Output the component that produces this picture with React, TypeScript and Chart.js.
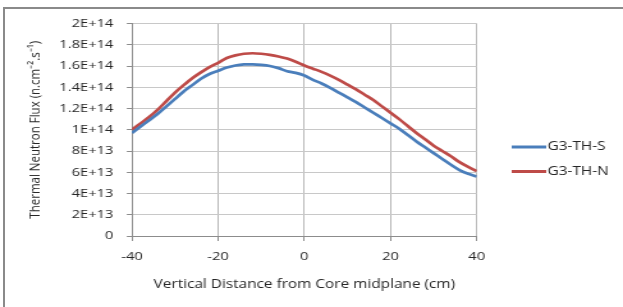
import React, { useEffect, useRef } from "react";
import { Chart, registerables } from "chart.js";

Chart.register(...registerables);

// Vertical distance from core midplane (cm)
const distances = [
  -40, -38, -36, -34, -32, -30, -28, -26, -24, -22, -20, -18, -16, -14, -12, -10, -8, -6, -4, -2,
  0, 2, 4, 6, 8, 10, 12, 14, 16, 18, 20, 22, 24, 26, 28, 30, 32, 34, 36, 38, 40,
];

// Thermal neutron flux, G3-TH-S (n.cm^-2.s^-1)
const fluxS = [
  9.7e13, 10.3e13, 10.9e13, 11.5e13, 12.2e13, 12.9e13, 13.6e13, 14.2e13, 14.8e13, 15.25e13,
  15.55e13, 15.85e13, 16.05e13, 16.15e13, 16.15e13, 16.1e13, 16.0e13, 15.8e13, 15.5e13, 15.35e13,
  15.1e13, 14.7e13, 14.35e13, 13.95e13, 13.5e13, 13.05e13, 12.6e13, 12.1e13, 11.6e13, 11.1e13,
  10.6e13, 10.1e13, 9.5e13, 8.9e13, 8.35e13, 7.8e13, 7.25e13, 6.7e13, 6.2e13, 5.85e13, 5.6e13,
];

// Thermal neutron flux, G3-TH-N (n.cm^-2.s^-1)
const fluxN = [
  10.0e13, 10.6e13, 11.2e13, 11.9e13, 12.7e13, 13.5e13, 14.2e13, 14.85e13, 15.4e13, 15.9e13,
  16.3e13, 16.75e13, 17.0e13, 17.15e13, 17.2e13, 17.15e13, 17.05e13, 16.9e13, 16.7e13, 16.4e13,
  16.05e13, 15.75e13, 15.45e13, 15.1e13, 14.7e13, 14.25e13, 13.8e13, 13.3e13, 12.8e13, 12.2e13,
  11.6e13, 11.0e13, 10.35e13, 9.7e13, 9.1e13, 8.5e13, 8.0e13, 7.5e13, 6.95e13, 6.5e13, 6.1e13,
];

const seriesLabels = ["G3-TH-S", "G3-TH-N"];
const seriesColors = ["#4a7ebb", "#be4b48"];
const xTickValues = [-40, -20, 0, 20, 40];
const yTickValues = [0, 2e13, 4e13, 6e13, 8e13, 1e14, 1.2e14, 1.4e14, 1.6e14, 1.8e14, 2e14];

const xTitle = "Vertical Distance from Core midplane (cm)";
const yTitle = "Thermal Neutron Flux (n.cm\u207B\u00B2.s\u207B\u00B9)";

const FONT = "'Open Sans', 'Liberation Sans', sans-serif";
const TEXT = "#262626";

// The reference image is stretched horizontally; draw narrower and widen with CSS.
const PAGE_W = 623;
const PAGE_H = 307;
const K = 1.28;
const CANVAS_W = Math.round(PAGE_W / K);

function formatGeneral(v: number): string {
  if (v === 0) return "0";
  const r = Math.round(v / 1e11) * 1e11;
  let e = Math.floor(Math.log10(r));
  let m = Number((r / Math.pow(10, e)).toFixed(2));
  if (m >= 10) {
    m = m / 10;
    e += 1;
  }
  return `${m}E+${e}`;
}

const legendPlugin = {
  id: "sideLegend",
  afterDraw(chart: any) {
    const { ctx, chartArea } = chart;
    ctx.save();
    ctx.font = `12px ${FONT}`;
    ctx.textBaseline = "middle";
    ctx.textAlign = "left";
    const x0 = chartArea.right + 400 - 372.7;
    const ys = [147, 171.5];
    chart.data.datasets.forEach((ds: any, i: number) => {
      const y = ys[i];
      ctx.strokeStyle = ds.borderColor;
      ctx.lineWidth = 3;
      ctx.beginPath();
      ctx.moveTo(x0, y);
      ctx.lineTo(x0 + 27, y);
      ctx.stroke();
      ctx.fillStyle = TEXT;
      ctx.fillText(ds.label, x0 + 28, y);
    });
    ctx.restore();
  },
};

export default function App() {
  const canvasRef = useRef<HTMLCanvasElement | null>(null);

  useEffect(() => {
    if (!canvasRef.current) return;
    const chart = new Chart(canvasRef.current, {
      type: "line",
      data: {
        datasets: [
          {
            label: seriesLabels[0],
            data: distances.map((d, i) => ({ x: d, y: fluxS[i] })),
            borderColor: seriesColors[0],
            backgroundColor: seriesColors[0],
            borderWidth: 2.7,
            pointRadius: 0,
            tension: 0.3,
          },
          {
            label: seriesLabels[1],
            data: distances.map((d, i) => ({ x: d, y: fluxN[i] })),
            borderColor: seriesColors[1],
            backgroundColor: seriesColors[1],
            borderWidth: 2.7,
            pointRadius: 0,
            tension: 0.3,
          },
        ],
      },
      options: {
        animation: false,
        responsive: false,
        maintainAspectRatio: false,
        devicePixelRatio: 1,
        layout: { padding: { left: 0, right: CANVAS_W - 372.7, top: 23.5, bottom: 0 } },
        plugins: {
          legend: { display: false },
          tooltip: { enabled: false },
        },
        scales: {
          x: {
            type: "linear",
            min: -40,
            max: 40,
            afterBuildTicks: (scale: any) => {
              scale.ticks = xTickValues.map((v) => ({ value: v }));
            },
            afterFit: (scale: any) => {
              scale.height = PAGE_H - 236;
            },
            ticks: {
              color: TEXT,
              font: { family: FONT, size: 11.5 },
              padding: 9,
              maxRotation: 0,
              callback: (v: any) => String(v),
            },
            grid: {
              color: "#b8b8b8",
              lineWidth: 1,
              drawTicks: true,
              tickLength: 5,
              tickColor: "#8c8c8c",
            },
            border: { color: "#8c8c8c", width: 1 },
            title: {
              display: true,
              text: xTitle,
              color: TEXT,
              font: { family: FONT, size: 12 },
              padding: { top: 0, bottom: 15.5 },
            },
          },
          y: {
            type: "linear",
            min: 0,
            max: 2e14,
            afterBuildTicks: (scale: any) => {
              scale.ticks = yTickValues.map((v) => ({ value: v }));
            },
            afterFit: (scale: any) => {
              scale.width = 132 / K;
            },
            ticks: {
              color: TEXT,
              font: { family: FONT, size: 11.5 },
              padding: 10.5,
              callback: (v: any) => formatGeneral(Number(v)),
            },
            grid: {
              color: "#c8c8c8",
              lineWidth: 1,
              drawTicks: true,
              tickLength: 4,
              tickColor: "#8c8c8c",
            },
            border: { color: "#8c8c8c", width: 1 },
            title: {
              display: true,
              text: yTitle,
              color: TEXT,
              font: { family: FONT, size: 11.5 },
              padding: { top: 21, bottom: 0 },
            },
          },
        },
      },
      plugins: [legendPlugin],
    });
    return () => chart.destroy();
  }, []);

  return (
    <div
      style={{
        position: "absolute",
        left: 0,
        top: 0,
        width: PAGE_W,
        height: PAGE_H,
        background: "#fff",
        overflow: "hidden",
      }}
    >
      <div
        style={{
          position: "absolute",
          left: 3,
          top: 7,
          width: 640,
          height: 320,
          borderTop: "2px solid #8a8a8a",
          borderLeft: "2px solid #8a8a8a",
        }}
      />
      <canvas
        ref={canvasRef}
        width={CANVAS_W}
        height={PAGE_H}
        style={{ position: "absolute", left: 0, top: 0, width: PAGE_W, height: PAGE_H }}
      />
    </div>
  );
}
